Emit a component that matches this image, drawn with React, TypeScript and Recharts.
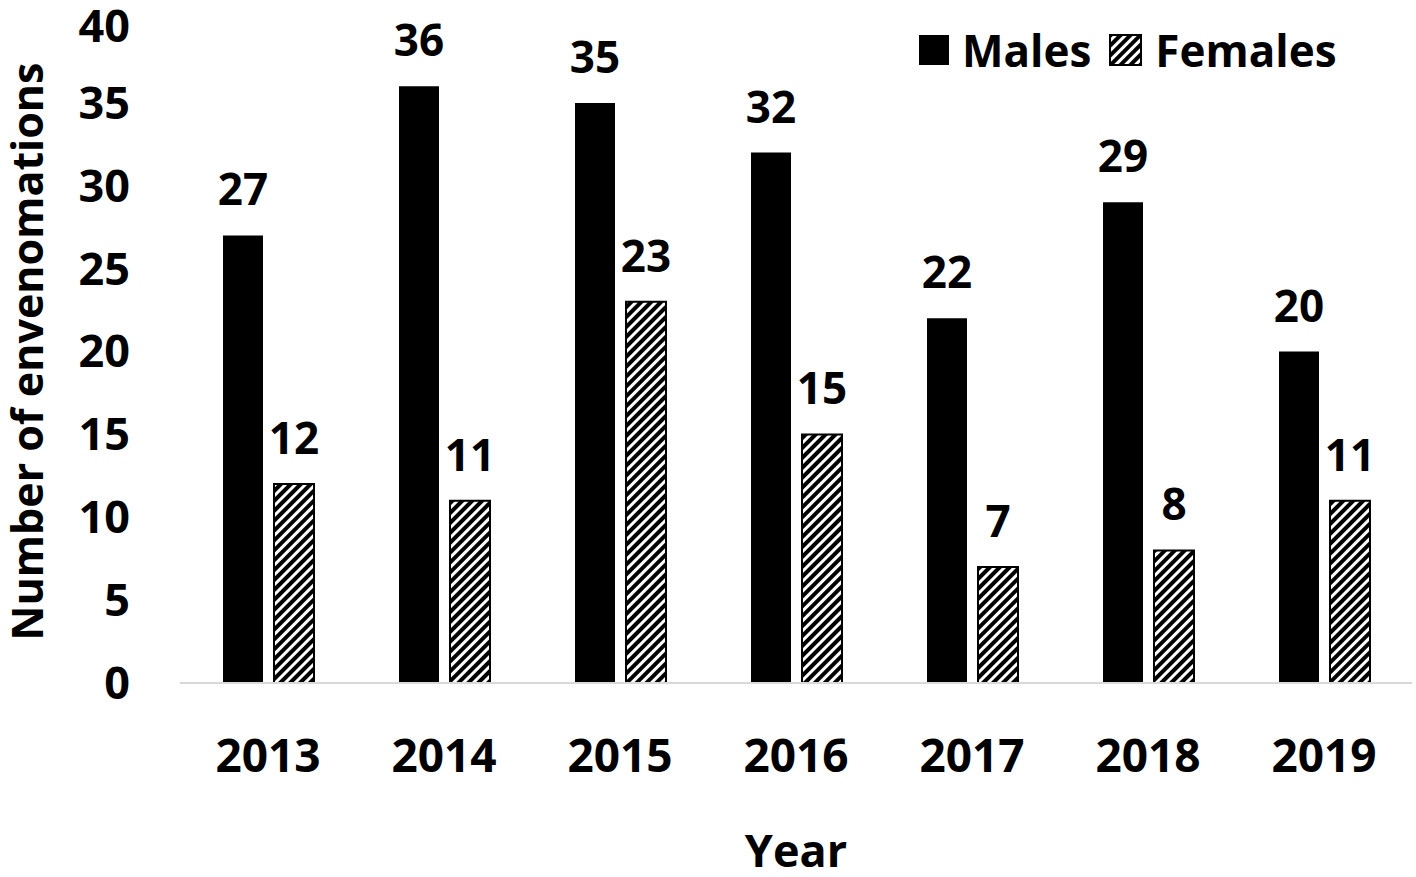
import { Bar, BarChart, LabelList, XAxis, YAxis } from "recharts";

const YEARS = ["2013", "2014", "2015", "2016", "2017", "2018", "2019"];
const MALES = [27, 36, 35, 32, 22, 29, 20];
const FEMALES = [12, 11, 23, 15, 7, 8, 11];
const Y_TICKS = [0, 5, 10, 15, 20, 25, 30, 35, 40];

const FONT = "'Open Sans', sans-serif";

const data = YEARS.map((year, i) => ({ year, males: MALES[i], females: FEMALES[i] }));

function YTitle(props: any) {
  const { viewBox } = props;
  const cx = 26;
  const cy = viewBox.y + viewBox.height / 2;
  return (
    <text
      x={cx}
      y={cy}
      transform={`rotate(-90 ${cx} ${cy})`}
      textAnchor="middle"
      dominantBaseline="central"
      fontSize={43}
      fontWeight={700}
      fill="#000"
      fontFamily={FONT}
    >
      Number of envenomations
    </text>
  );
}

function XTitle(props: any) {
  const { viewBox } = props;
  return (
    <text
      x={viewBox.x + viewBox.width / 2}
      y={867}
      textAnchor="middle"
      fontSize={45}
      fontWeight={700}
      fill="#000"
      fontFamily={FONT}
    >
      Year
    </text>
  );
}

function LegendBox() {
  const item = { display: "flex", alignItems: "center", marginRight: 18 };
  const text = { fontSize: 44, fontWeight: 700, color: "#000", fontFamily: FONT, lineHeight: "60px" };
  return (
    <div style={{ position: "absolute", left: 918, top: 20, display: "flex", alignItems: "center" }}>
      <div style={item}>
        <svg width={32} height={30} style={{ marginRight: 12 }}>
          <rect x={1} y={0} width={30} height={30} fill="#000" />
        </svg>
        <span style={text}>Males</span>
      </div>
      <div style={item}>
        <svg width={34} height={32} style={{ marginRight: 12 }}>
          <rect x={1} y={1} width={31} height={30} fill="url(#hatch)" stroke="#000" strokeWidth={2} />
        </svg>
        <span style={text}>Females</span>
      </div>
    </div>
  );
}

export default function App() {
  return (
    <div style={{ position: "absolute", left: 0, top: 0, width: 1416, height: 877, background: "#fff" }}>
      <svg width={0} height={0} style={{ position: "absolute" }}>
        <defs>
          <pattern
            id="hatch"
            patternUnits="userSpaceOnUse"
            width={7}
            height={7}
            patternTransform="rotate(45)"
          >
            <rect width={7} height={7} fill="#fff" />
            <rect width={4} height={7} fill="#000" />
          </pattern>
        </defs>
      </svg>
      <BarChart
        width={1416}
        height={877}
        data={data}
        margin={{ top: 20, right: 4, left: 0, bottom: 0 }}
        barCategoryGap={43}
        barGap={11}
        style={{ fontFamily: FONT }}
      >
        <XAxis
          dataKey="year"
          height={194}
          tickLine={false}
          tickSize={0}
          tickMargin={56}
          axisLine={{ stroke: "#d9d9d9", strokeWidth: 2 }}
          tick={{ fill: "#000", fontSize: 46, fontWeight: 700, fontFamily: FONT }}
          label={<XTitle />}
        />
        <YAxis
          width={180}
          domain={[0, 40]}
          ticks={Y_TICKS}
          axisLine={false}
          tickLine={false}
          tickSize={0}
          tickMargin={50}
          tick={{ fill: "#000", fontSize: 45, fontWeight: 700, fontFamily: FONT }}
          label={<YTitle />}
        />
        <Bar dataKey="males" name="Males" fill="#000" isAnimationActive={false}>
          <LabelList dataKey="males" position="top" offset={30} fill="#000" fontSize={44} fontWeight={700} fontFamily={FONT} />
        </Bar>
        <Bar
          dataKey="females"
          name="Females"
          fill="url(#hatch)"
          stroke="#000"
          strokeWidth={2}
          isAnimationActive={false}
        >
          <LabelList dataKey="females" position="top" offset={30} fill="#000" fontSize={44} fontWeight={700} fontFamily={FONT} />
        </Bar>
      </BarChart>
      <LegendBox />
    </div>
  );
}
